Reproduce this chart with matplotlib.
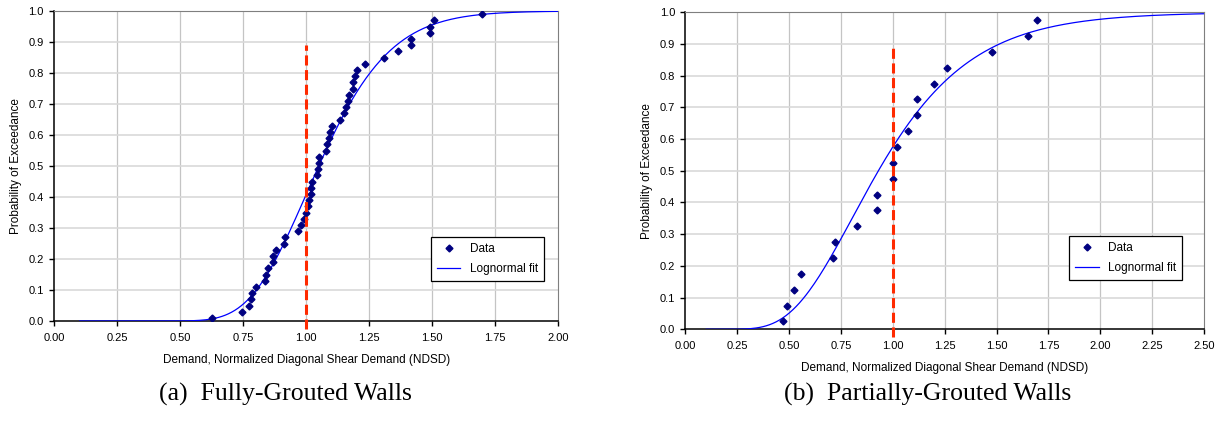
import math
import numpy as np
import matplotlib
matplotlib.use("Agg")
import matplotlib.pyplot as plt
from matplotlib.ticker import FormatStrFormatter, MultipleLocator

plt.rcParams['font.family'] = ['Liberation Sans', 'DejaVu Sans']

# (a) fully-grouted walls: normalized demand vs probability of exceedance
fg_ndsd = [0.627, 0.746, 0.773, 0.779, 0.785, 0.799, 0.835, 0.840, 0.849, 0.867,
           0.867, 0.880, 0.912, 0.916, 0.967, 0.980, 0.992, 0.999, 1.009, 1.010,
           1.020, 1.021, 1.024, 1.043, 1.048, 1.049, 1.052, 1.077, 1.082, 1.090,
           1.094, 1.103, 1.136, 1.151, 1.160, 1.167, 1.172, 1.187, 1.187, 1.194,
           1.200, 1.232, 1.308, 1.364, 1.417, 1.417, 1.492, 1.492, 1.506, 1.699]
fg_prob = [0.01, 0.03, 0.05, 0.07, 0.09, 0.11, 0.13, 0.15, 0.17, 0.19,
           0.21, 0.23, 0.25, 0.27, 0.29, 0.31, 0.33, 0.35, 0.37, 0.39,
           0.41, 0.43, 0.45, 0.47, 0.49, 0.51, 0.53, 0.55, 0.57, 0.59,
           0.61, 0.63, 0.65, 0.67, 0.69, 0.71, 0.73, 0.75, 0.77, 0.79,
           0.81, 0.83, 0.85, 0.87, 0.89, 0.91, 0.93, 0.95, 0.97, 0.99]
fg_median, fg_beta = 1.05, 0.21

# (b) partially-grouted walls
pg_ndsd = [0.472, 0.491, 0.524, 0.559, 0.712, 0.722, 0.828, 0.924, 0.924, 1.000,
           1.000, 1.019, 1.075, 1.116, 1.116, 1.196, 1.261, 1.479, 1.653, 1.696]
pg_prob = [0.025, 0.075, 0.125, 0.175, 0.225, 0.275, 0.325, 0.375, 0.425, 0.475,
           0.525, 0.575, 0.625, 0.675, 0.725, 0.775, 0.825, 0.875, 0.925, 0.975]
pg_median, pg_beta = 0.93, 0.38


def lognorm_cdf(x, median, beta):
    return np.array([0.5 * (1 + math.erf(math.log(v / median) / (beta * math.sqrt(2)))) for v in x])


fig = plt.figure(figsize=(12.24, 4.25), dpi=100)
ax1 = fig.add_axes([0.0444, 0.2447, 0.4115, 0.7294])
ax2 = fig.add_axes([0.5600, 0.2252, 0.4237, 0.7459])

panels = [
    (ax1, fg_ndsd, fg_prob, fg_median, fg_beta, 2.0, (0.972, 0.271), 0.233, "(a)  Fully-Grouted Walls"),
    (ax2, pg_ndsd, pg_prob, pg_median, pg_beta, 2.5, (0.958, 0.294), 0.758, "(b)  Partially-Grouted Walls"),
]

for ax, xs, ys, med, beta, xmax, leg_anchor, cap_x, caption in panels:
    xfit = np.linspace(0.1, xmax, 300)
    ax.plot(xs, ys, linestyle='none', marker='D', markersize=3.5, color='#000080',
            label='Data', zorder=4)
    ax.plot(xfit, lognorm_cdf(xfit, med, beta), color='#0000FF', lw=0.9,
            label='Lognormal fit', zorder=3)
    red, = ax.plot([1.0, 1.0], [-0.025, 0.89], color='#FF2A00', lw=2.2,
                   clip_on=False, zorder=5)
    red.set_dashes((3.3, 1.5))

    ax.set_xlim(0, xmax)
    ax.set_ylim(0, 1.0)
    ax.xaxis.set_major_locator(MultipleLocator(0.25))
    ax.yaxis.set_major_locator(MultipleLocator(0.1))
    ax.xaxis.set_major_formatter(FormatStrFormatter('%.2f'))
    ax.yaxis.set_major_formatter(FormatStrFormatter('%.1f'))
    ax.tick_params(direction='out', length=3.5, width=1, labelsize=8, pad=4)
    ax.tick_params(axis='x', pad=5)

    for xv in np.arange(0.25, xmax, 0.25):
        ax.axvline(xv, color='#C4C4C4', lw=0.9, zorder=0)
    for yv in np.arange(0.1, 1.05, 0.1):
        ax.axhline(yv, color='#D9D9D9', lw=1.2, zorder=0)

    ax.spines['left'].set_linewidth(1.1)
    ax.spines['bottom'].set_linewidth(1.1)
    ax.spines['top'].set_color('#7F7F7F')
    ax.spines['right'].set_color('#7F7F7F')

    ax.set_xlabel('Demand, Normalized Diagonal Shear Demand (NDSD)', fontsize=8.5, labelpad=8)
    ax.set_ylabel('Probability of Exceedance', fontsize=8.5, labelpad=5)

    leg = ax.legend(loc='upper right', bbox_to_anchor=leg_anchor, borderaxespad=0,
                    fontsize=8.5, fancybox=False, framealpha=1, edgecolor='black',
                    handlelength=2.0, borderpad=0.5, labelspacing=0.7)
    leg.get_frame().set_linewidth(0.9)

    fig.text(cap_x, 0.072, caption, ha='center', va='center', fontsize=18.5,
             family=['Liberation Serif', 'DejaVu Serif'])

fig.savefig('out.png', dpi=100)
